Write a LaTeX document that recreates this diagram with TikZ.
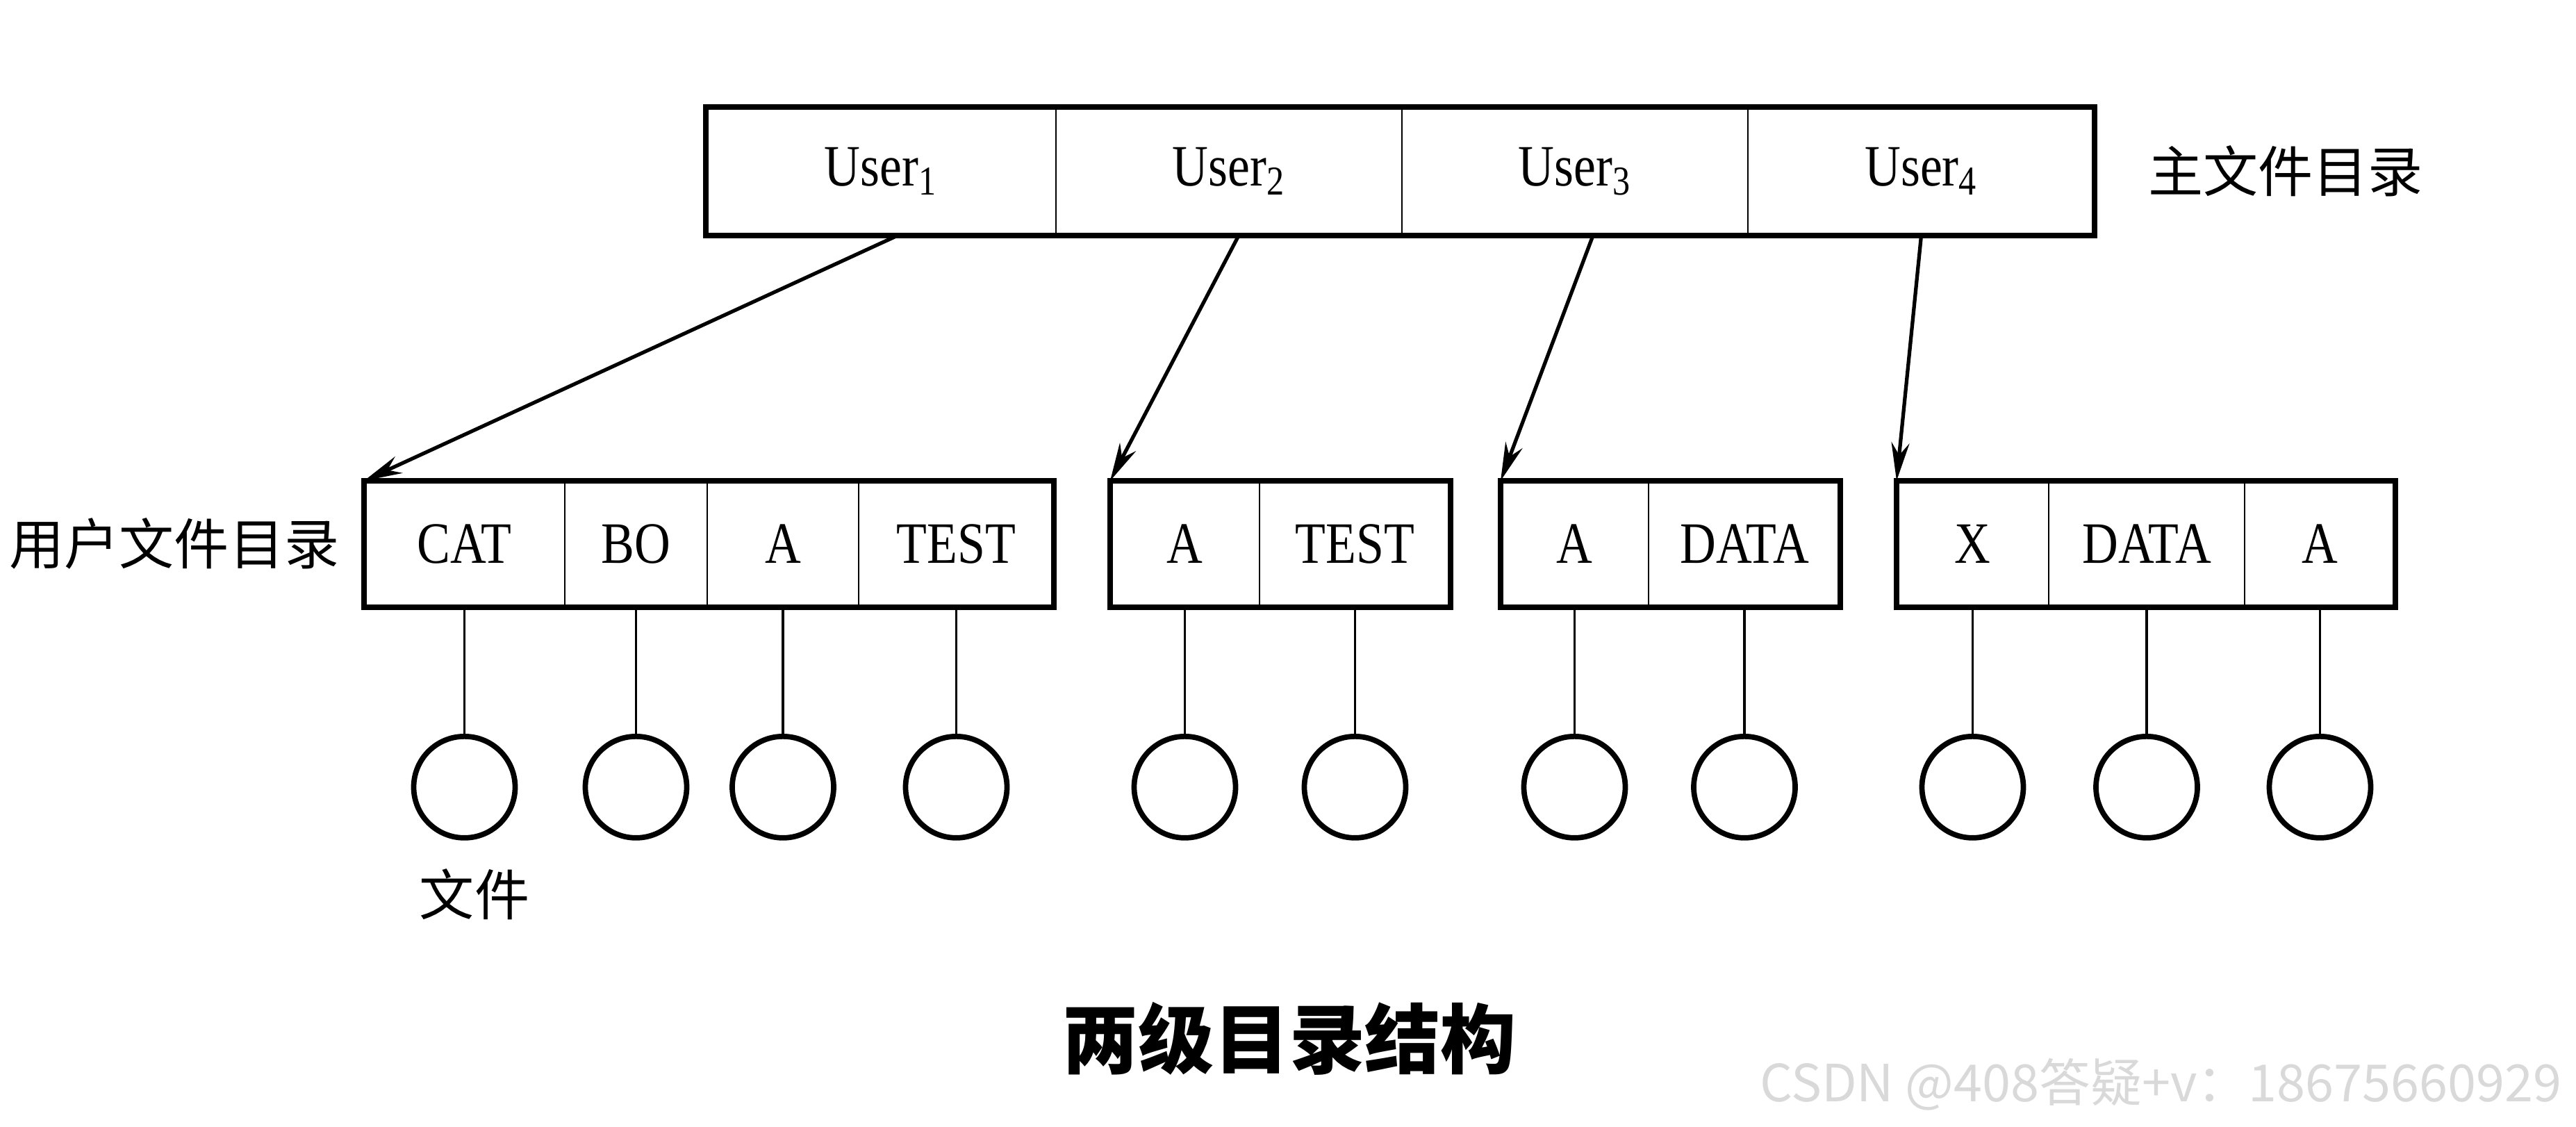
\documentclass[tikz,border=0pt]{standalone}
\usepackage{fontspec}
\setmainfont{Liberation Serif}[FakeStretch=0.85]
\newfontfamily\cjk{Noto Sans CJK SC}
\usetikzlibrary{positioning,arrows.meta}

\begin{document}
\begin{tikzpicture}[
    cell/.style={rectangle, draw, line width=0.8pt, minimum height=1.82cm, inner sep=0pt, outer sep=0pt, font=\fontsize{24}{28}\selectfont},
    frame/.style={line width=2.2pt},
    file/.style={circle, draw, line width=2.2pt, minimum size=1.46cm, inner sep=0pt},
    link/.style={line width=0.9pt},
    arrow/.style={-{Stealth[length=5.5mm,width=2.6mm]}, line width=1.5pt},
    caption/.style={font=\cjk\fontsize{22.5}{26}\selectfont}
]
\useasboundingbox (0,0) rectangle (37.08,16.22);

% Main file directory
\node[cell, minimum width=5.04cm, minimum height=1.85cm] (user1) at (12.68,13.755) {User\textsubscript{1}};
\node[cell, minimum width=4.98cm, minimum height=1.85cm] (user2) at (17.69,13.755) {User\textsubscript{2}};
\node[cell, minimum width=4.98cm, minimum height=1.85cm] (user3) at (22.67,13.755) {User\textsubscript{3}};
\node[cell, minimum width=4.99cm, minimum height=1.85cm] (user4) at (27.655,13.755) {User\textsubscript{4}};
\draw[frame] (user1.north west) rectangle (user4.south east);
\node[caption] (mfd) at (32.9,13.76) {主文件目录};

% User file directory 1
\node[cell, minimum width=2.89cm] (u1cat) at (6.685,8.39) {CAT};
\node[cell, minimum width=2.05cm] (u1bo) at (9.155,8.39) {BO};
\node[cell, minimum width=2.18cm] (u1a) at (11.27,8.39) {A};
\node[cell, minimum width=2.81cm] (u1test) at (13.765,8.39) {TEST};
\draw[frame] (u1cat.north west) rectangle (u1test.south east);

% User file directory 2
\node[cell, minimum width=2.15cm] (u2a) at (17.055,8.39) {A};
\node[cell, minimum width=2.75cm] (u2test) at (19.505,8.39) {TEST};
\draw[frame] (u2a.north west) rectangle (u2test.south east);

% User file directory 3
\node[cell, minimum width=2.13cm] (u3a) at (22.665,8.39) {A};
\node[cell, minimum width=2.76cm] (u3data) at (25.11,8.39) {DATA};
\draw[frame] (u3a.north west) rectangle (u3data.south east);

% User file directory 4
\node[cell, minimum width=2.19cm] (u4x) at (28.395,8.39) {X};
\node[cell, minimum width=2.82cm] (u4data) at (30.9,8.39) {DATA};
\node[cell, minimum width=2.17cm] (u4a) at (33.395,8.39) {A};
\draw[frame] (u4x.north west) rectangle (u4a.south east);

\node[caption] (ufd) at (2.51,8.40) {用户文件目录};

% Files
\node[file, below=1.82cm of u1cat] (f1) {};
\node[file, below=1.82cm of u1bo] (f2) {};
\node[file, below=1.82cm of u1a] (f3) {};
\node[file, below=1.82cm of u1test] (f4) {};
\node[file, below=1.82cm of u2a] (f5) {};
\node[file, below=1.82cm of u2test] (f6) {};
\node[file, below=1.82cm of u3a] (f7) {};
\node[file, below=1.82cm of u3data] (f8) {};
\node[file, below=1.82cm of u4x] (f9) {};
\node[file, below=1.82cm of u4data] (f10) {};
\node[file, below=1.82cm of u4a] (f11) {};
\node[caption] (flabel) at (6.83,3.35) {文件};

% Connections
\draw[link] (u1cat) -- (f1);
\draw[link] (u1bo) -- (f2);
\draw[link] (u1a) -- (f3);
\draw[link] (u1test) -- (f4);
\draw[link] (u2a) -- (f5);
\draw[link] (u2test) -- (f6);
\draw[link] (u3a) -- (f7);
\draw[link] (u3data) -- (f8);
\draw[link] (u4x) -- (f9);
\draw[link] (u4data) -- (f10);
\draw[link] (u4a) -- (f11);

\draw[arrow] ([xshift=2.4mm]user1.south) -- (u1cat.north west);
\draw[arrow] ([xshift=1.4mm]user2.south) -- (u2a.north west);
\draw[arrow] ([xshift=2.6mm]user3.south) -- (u3a.north west);
\draw[arrow] (user4.south) -- (u4x.north west);

% Title
\node[font=\cjk\bfseries\fontsize{31}{36}\selectfont] (title) at (18.56,1.27) {两级目录结构};
\node[font=\cjk\fontsize{21}{24}\selectfont, text=gray!30] (mark) at (31.1,0.61) {CSDN @408答疑+v：18675660929};

\end{tikzpicture}
\end{document}
